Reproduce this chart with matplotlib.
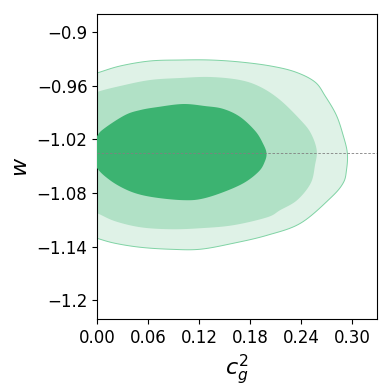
import numpy as np
import matplotlib
matplotlib.use('Agg')
import matplotlib.pyplot as plt

# contour outlines (c_g^2, w)
outer_x = [-0.020, 0.000, 0.027, 0.062, 0.098, 0.133, 0.168, 0.204, 0.233, 0.256, 0.268,
           0.281, 0.289, 0.294, 0.293, 0.289, 0.274, 0.239, 0.200, 0.160, 0.121, 0.086,
           0.051, 0.021, 0.000, -0.020]
outer_y = [-0.9515, -0.9459, -0.9381, -0.9325, -0.9314, -0.9314, -0.9336, -0.9381, -0.9448,
           -0.9560, -0.9717, -0.9929, -1.0153, -1.0355, -1.0545, -1.0691, -1.0859, -1.1139,
           -1.1273, -1.1363, -1.1430, -1.1430, -1.1408, -1.1363, -1.1307, -1.1240]

mid_x = [-0.020, 0.000, 0.027, 0.062, 0.098, 0.133, 0.168, 0.192, 0.215, 0.239, 0.251,
         0.258, 0.256, 0.251, 0.235, 0.215, 0.200, 0.160, 0.121, 0.086, 0.051, 0.021,
         0.000, -0.020]
mid_y = [-0.9761, -0.9672, -0.9605, -0.9538, -0.9515, -0.9504, -0.9538, -0.9616, -0.9761,
         -0.9985, -1.0131, -1.0321, -1.0489, -1.0691, -1.0881, -1.0993, -1.1072, -1.1161,
         -1.1195, -1.1206, -1.1184, -1.1116, -1.1027, -1.0960]

inner_x = [-0.008, 0.000, 0.009, 0.033, 0.051, 0.071, 0.101, 0.127, 0.148, 0.168, 0.186,
           0.195, 0.199, 0.197, 0.190, 0.172, 0.145, 0.121, 0.101, 0.074, 0.051, 0.033,
           0.015, 0.000]
inner_y = [-1.0344, -1.0165, -1.0075, -0.9929, -0.9873, -0.9840, -0.9806, -0.9829, -0.9860,
           -0.9950, -1.0110, -1.0250, -1.0355, -1.0450, -1.0560, -1.0691, -1.0803, -1.0870,
           -1.0881, -1.0859, -1.0820, -1.0758, -1.0657, -1.0523]

w_marker = -1.0355

x_ticks = [0.00, 0.06, 0.12, 0.18, 0.24, 0.30]
y_ticks = [-0.9, -0.96, -1.02, -1.08, -1.14, -1.2]


# closed catmull-rom curve through the outline vertices, just to round the corners
def smooth_closed(xs, ys, n=12):
    p = np.column_stack([xs, ys])
    out = []
    m = len(p)
    for i in range(m):
        p0, p1, p2, p3 = p[i - 1], p[i], p[(i + 1) % m], p[(i + 2) % m]
        for t in np.linspace(0, 1, n, endpoint=False):
            t2, t3 = t * t, t * t * t
            out.append(0.5 * (2 * p1 + (-p0 + p2) * t + (2 * p0 - 5 * p1 + 4 * p2 - p3) * t2
                              + (-p0 + 3 * p1 - 3 * p2 + p3) * t3))
    out = np.array(out)
    return out[:, 0], out[:, 1]


fig = plt.figure(figsize=(3.9, 3.9), dpi=100)
ax = fig.add_axes([0.249, 0.182, 0.718, 0.782])

ax.fill(*smooth_closed(outer_x, outer_y), facecolor='#dff2e7', edgecolor='#7fd3a4', lw=0.7, zorder=1)
ax.fill(*smooth_closed(mid_x, mid_y), facecolor='#b1e1c6', edgecolor='none', zorder=2)
ax.fill(*smooth_closed(inner_x, inner_y), facecolor='#3cb371', edgecolor='none', zorder=3)

ax.axhline(w_marker, color='grey', lw=0.6, ls=(0, (3, 2)), zorder=4)

ax.set_xlim(0, 0.329)
ax.set_ylim(-1.221, -0.88)
ax.set_xticks(x_ticks)
ax.set_xticklabels(['%.2f' % v for v in x_ticks])
ax.set_yticks(y_ticks)
ylabs = ['%g' % v if v in (-0.9, -1.2) else '%.2f' % v for v in y_ticks]
ax.set_yticklabels([s.replace('-', '\u2212') for s in ylabs])
ax.tick_params(labelsize=12)
ax.set_xlabel(r'$c_g^2$', fontsize=16)
ax.set_ylabel(r'$w$', fontsize=16)

fig.savefig('out.png', dpi=100)
